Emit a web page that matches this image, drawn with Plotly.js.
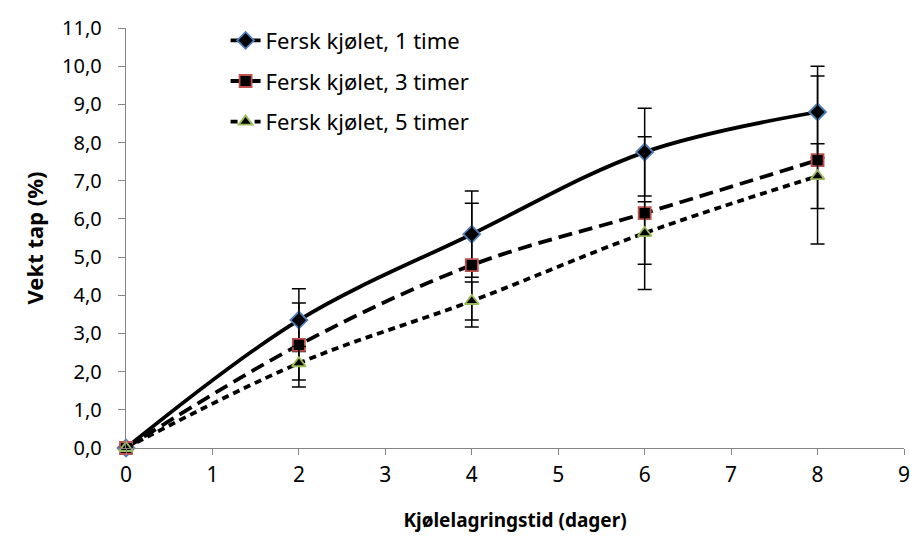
<!DOCTYPE html>
<html><head><meta charset="utf-8">
<script src="https://cdn.plot.ly/plotly-3.0.1.min.js"></script>
<style>html,body{margin:0;padding:0;background:#fff}#chart{width:910px;height:536px}</style>
</head><body><div id="chart"></div>
<script>
const days = [0, 2, 4, 6, 8];
const names = ['Fersk kjølet, 1 time', 'Fersk kjølet, 3 timer', 'Fersk kjølet, 5 timer'];
const loss1h = [0, 3.35, 5.60, 7.75, 8.80];
const err1h  = [0, 0.82, 1.13, 1.15, 1.20];
const loss3h = [0, 2.70, 4.79, 6.15, 7.54];
const err3h  = [0, 1.10, 1.62, 2.00, 2.20];
const loss5h = [0, 2.22, 3.85, 5.63, 7.12];
const err5h  = [0, 0.44, 0.50, 0.82, 0.85];
const xTicks = [0,1,2,3,4,5,6,7,8,9];
const yTicks = [0,1,2,3,4,5,6,7,8,9,10,11];

const FONT = 'Noto Sans, Open Sans, sans-serif';
function trace(y, err, name, grp, dash, symbol, border, size) {
  return {
    x: days, y: y, name: name, legendgroup: grp, type: 'scatter', mode: 'lines+markers',
    line: {color: '#000', width: 3.8, dash: dash, shape: 'spline', smoothing: 1},
    marker: {symbol: symbol, size: size, color: '#000', line: {color: border, width: 1.8}},
    error_y: {type: 'data', array: err, visible: true, color: '#000', thickness: 1.5, width: 7},
    cliponaxis: false
  };
}
const data = [
  trace(loss1h, err1h, names[0], 'a', 'solid', 'diamond', '#4F81BD', 13),
  trace(loss3h, err3h, names[1], 'b', '14px,7px', 'square', '#C0504D', 12),
  trace(loss5h, err5h, names[2], 'c', '7px,5px', 'triangle-up', '#9BBB59', 12)
];
const layout = {
  width: 910, height: 536,
  margin: {l: 126, r: 6, t: 28, b: 88},
  paper_bgcolor: '#fff', plot_bgcolor: '#fff',
  separators: ',.',
  font: {family: FONT, size: 18, color: '#000'},
  showlegend: true,
  legend: {x: 0.128, y: 1.02, xanchor: 'left', yanchor: 'top', bgcolor: 'rgba(0,0,0,0)',
           traceorder: 'grouped', tracegroupgap: 9, font: {family: FONT, size: 22, color: '#000'}},
  xaxis: {range: [0, 9], tickvals: xTicks, ticks: 'outside', ticklen: 6, tickcolor: '#868686',
          showline: true, linecolor: '#868686', linewidth: 1.3, showgrid: false, zeroline: false,
          tickfont: {family: FONT, size: 21}, ticklabelstandoff: 1, ticklabeloverflow: 'allow',
          title: {text: 'Kjølelagringstid (dager)', font: {family: FONT, size: 19, weight: 'bold'}, standoff: 27}},
  yaxis: {range: [0, 11], tickvals: yTicks, tickformat: '.1f', ticks: 'outside', ticklen: 7, tickcolor: '#868686',
          showline: true, linecolor: '#868686', linewidth: 1.3, showgrid: false, zeroline: false,
          tickfont: {family: FONT, size: 20}, ticklabelstandoff: 12,
          title: {text: 'Vekt tap (%)', font: {family: FONT, size: 22, weight: 'bold'}, standoff: 12}}
};
Plotly.newPlot('chart', data, layout, {displayModeBar: false, staticPlot: true});
</script></body></html>
